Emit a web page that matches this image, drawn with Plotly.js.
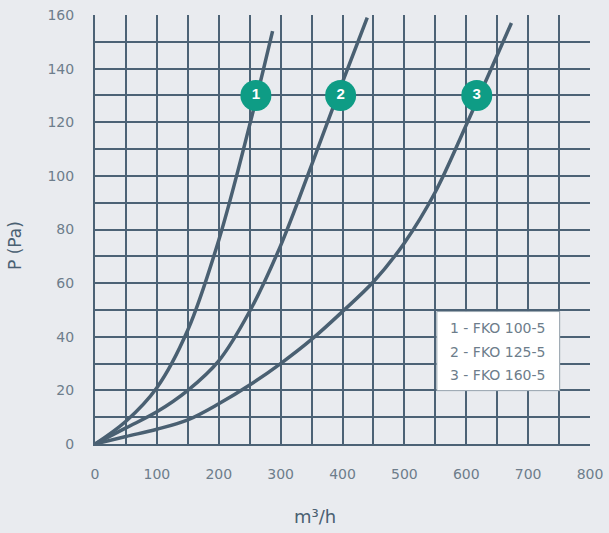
<!DOCTYPE html>
<html>
<head>
<meta charset="utf-8">
<script src="https://cdn.plot.ly/plotly-3.0.1.min.js"></script>
<style>html,body{margin:0;padding:0;background:#e9ebef;}#chart{width:609px;height:533px;}</style>
</head>
<body>
<div id="chart"></div>
<script>
// Flow (m³/h) and pressure (Pa)
const q1 = [0, 50, 100, 150, 200, 250, 287];
const p1 = [0, 8.5, 21, 42.5, 76, 119, 154];
const q2 = [0, 50, 100, 150, 200, 250, 300, 350, 400, 440];
const p2 = [0, 6, 12, 20, 31, 49.5, 74, 104, 135, 159];
const q3 = [0, 50, 100, 150, 200, 250, 300, 350, 400, 450, 500, 550, 600, 650, 673];
const p3 = [0, 2.8, 5.5, 9, 15, 22, 30, 39, 49.4, 60.5, 75, 94, 119, 145, 157];
const labelQ = [260, 397, 617];
const labelP = [130, 130, 130];
const labelText = ["1", "2", "3"];
const legendLines = ["1 - FKO 100-5", "2 - FKO 125-5", "3 - FKO 160-5"];
const xTicks = [0, 100, 200, 300, 400, 500, 600, 700, 800];
const yTicks = [0, 20, 40, 60, 80, 100, 120, 140, 160];
const xTitle = "m³/h";
const yTitle = "P (Pa)";

const lineColor = "#4a6072";
const gridColor = "#4c6275";
const tickColor = "#6d7d8b";

const curve = (x, y) => ({
  x: x, y: y, type: "scatter", mode: "lines",
  line: {color: lineColor, width: 3.5, shape: "spline", smoothing: 1},
  hoverinfo: "skip", showlegend: false
});

const traces = [
  curve(q1, p1), curve(q2, p2), curve(q3, p3),
  {
    x: labelQ, y: labelP, text: labelText, type: "scatter", mode: "markers+text",
    marker: {size: 31, color: "#0e9c85"},
    textposition: "middle center",
    textfont: {family: "Liberation Sans, Arial, sans-serif", size: 15, color: "#ffffff", weight: "bold"},
    hoverinfo: "skip", showlegend: false
  }
];

const annotations = legendLines.map((t, i) => ({
  x: 651, y: 43.3 - i * 8.8, xref: "x", yref: "y", text: t, showarrow: false,
  font: {family: "DejaVu Sans, sans-serif", size: 14, color: tickColor},
  xanchor: "center", yanchor: "middle"
}));
annotations.push({
  x: 0.444, y: -0.170, xref: "paper", yref: "paper", text: xTitle, showarrow: false,
  font: {family: "DejaVu Sans, sans-serif", size: 18, color: lineColor},
  xanchor: "center", yanchor: "middle"
});
annotations.push({
  x: -0.1616, y: 0.4615, xref: "paper", yref: "paper", text: yTitle, showarrow: false,
  textangle: -90,
  font: {family: "DejaVu Sans, sans-serif", size: 17, color: lineColor},
  xanchor: "center", yanchor: "middle"
});

const layout = {
  width: 609, height: 533,
  margin: {l: 95, r: 19, t: 15, b: 89},
  paper_bgcolor: "#e9ebef", plot_bgcolor: "#e9ebef",
  font: {family: "DejaVu Sans, sans-serif", color: tickColor, size: 14},
  xaxis: {
    range: [0, 800], tickvals: xTicks, ticktext: xTicks.map(String),
    showgrid: true, gridcolor: gridColor, gridwidth: 2,
    minor: {dtick: 50, showgrid: true, gridcolor: gridColor, gridwidth: 2},
    zeroline: false, showline: true, linecolor: gridColor, linewidth: 2,
    ticks: "outside", ticklen: 16, tickcolor: "rgba(0,0,0,0)",
    tickfont: {size: 14, color: tickColor},
    fixedrange: true
  },
  yaxis: {
    range: [0, 160], tickvals: yTicks, ticktext: yTicks.map(String),
    showgrid: true, gridcolor: gridColor, gridwidth: 2,
    minor: {dtick: 10, showgrid: true, gridcolor: gridColor, gridwidth: 2},
    zeroline: false, showline: true, linecolor: gridColor, linewidth: 2,
    ticks: "outside", ticklen: 16, tickcolor: "rgba(0,0,0,0)",
    tickfont: {size: 14, color: tickColor},
    fixedrange: true
  },
  shapes: [{
    type: "rect", xref: "x", yref: "y", x0: 552.5, x1: 751, y0: 19.9, y1: 49.4,
    fillcolor: "#ffffff", line: {color: "#9aa6b0", width: 1}, layer: "above"
  }],
  annotations: annotations
};

Plotly.newPlot("chart", traces, layout, {displayModeBar: false, staticPlot: true});
</script>
</body>
</html>
